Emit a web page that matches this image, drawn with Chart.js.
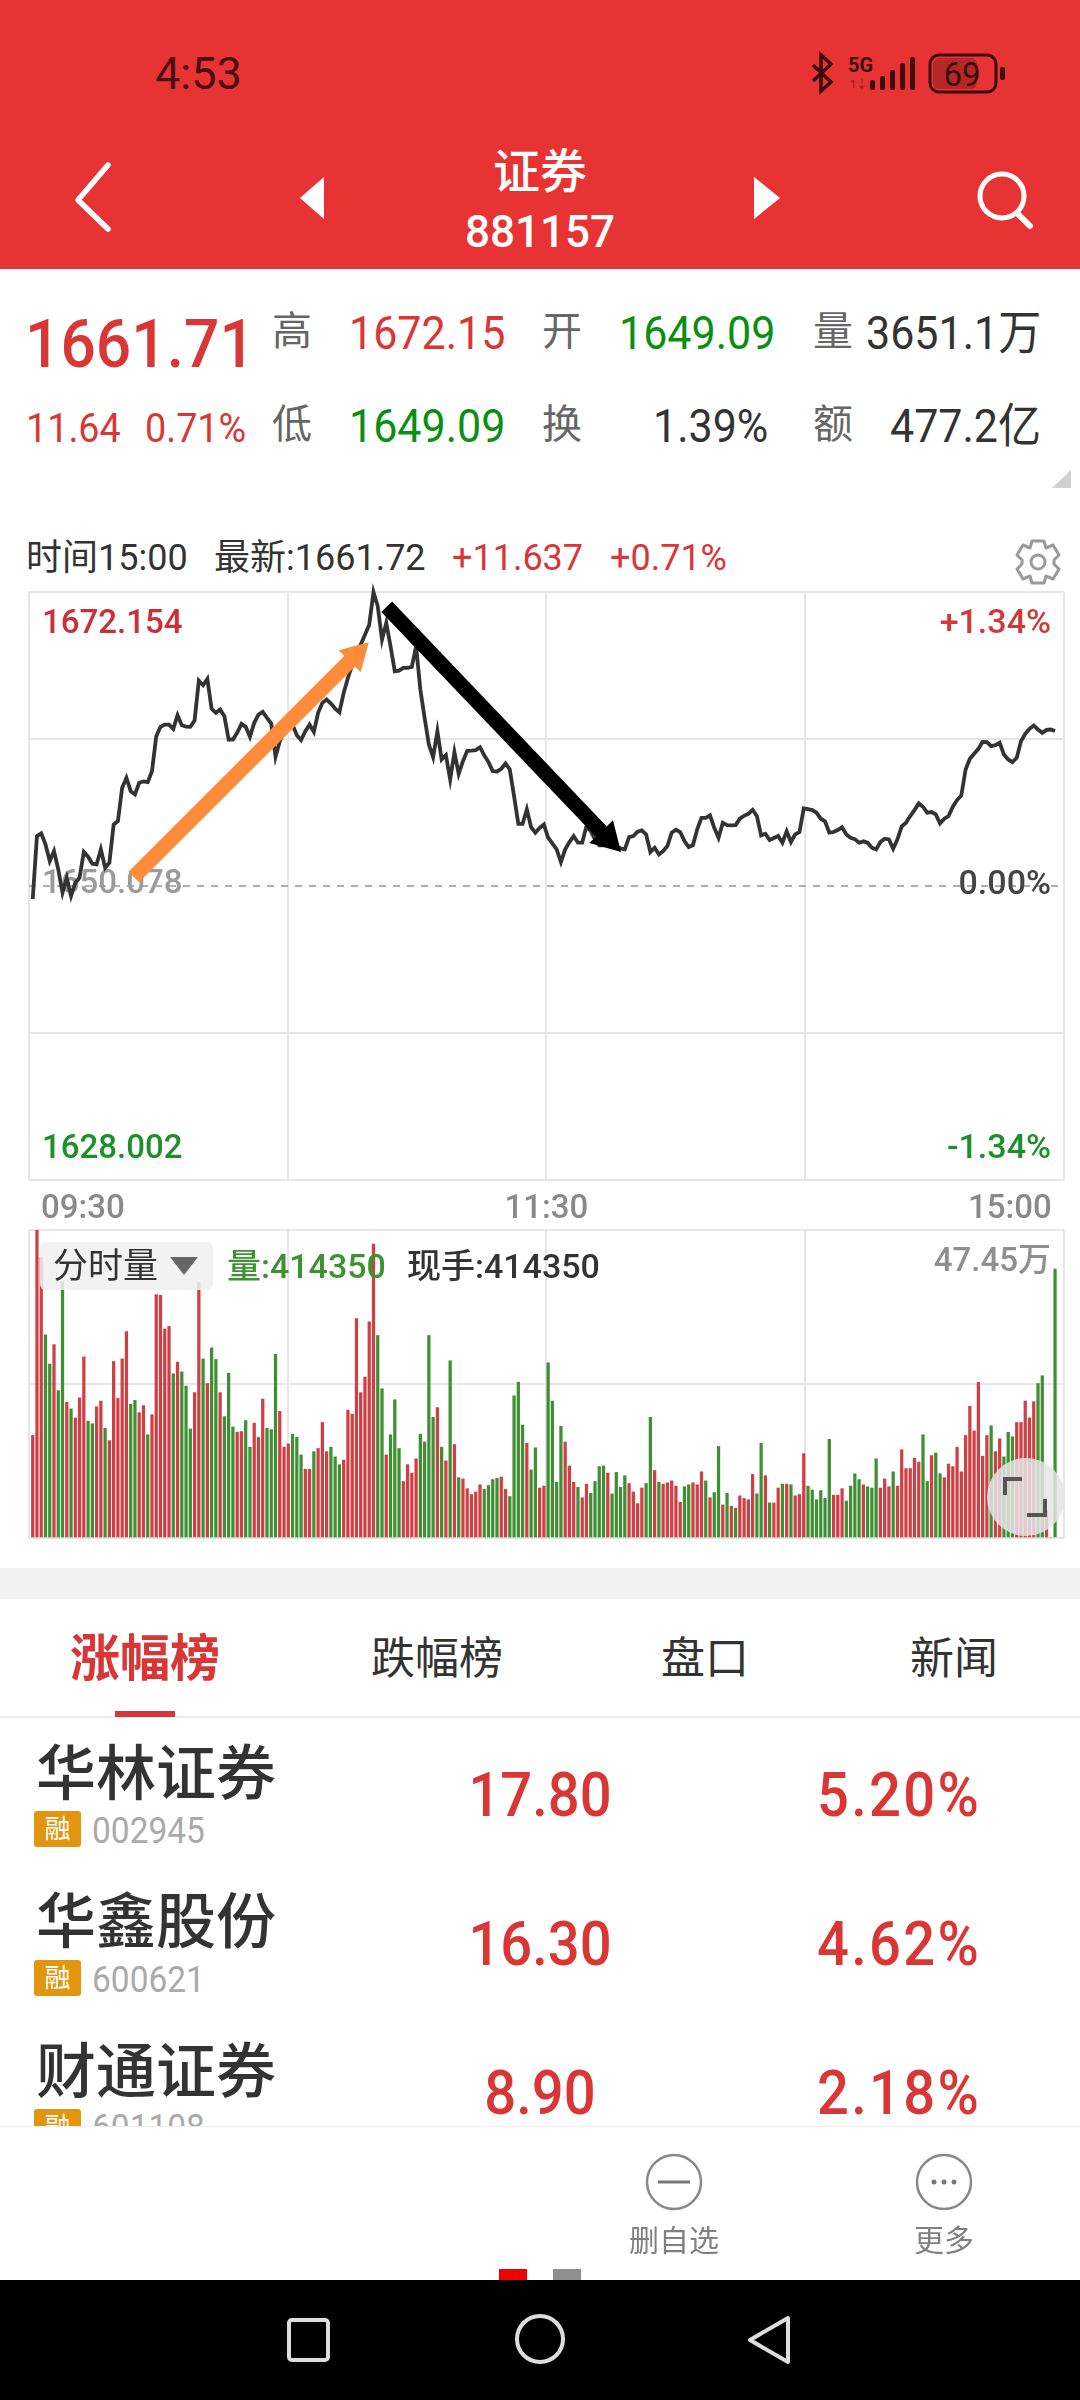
<!DOCTYPE html>
<html lang="zh-CN">
<head>
<meta charset="utf-8">
<title>证券 881157</title>
<script src="https://cdn.jsdelivr.net/npm/chart.js@4"></script>
<style>
html,body{margin:0;padding:0;background:#fff}
#page{position:relative;width:1080px;height:2400px;overflow:hidden;background:#fff;font-family:Roboto,"Noto Sans CJK SC",sans-serif;color:#333}
.t{position:absolute;white-space:nowrap;line-height:1;transform:translateY(-50%)}
.c{transform:translate(-50%,-50%)}
.r{transform:translate(-100%,-50%)}
.red{color:#d93636}.grn{color:#0a8f12}.dk{color:#333}.lb{color:#666}
.box{position:absolute}
svg{position:absolute;left:0;top:0;overflow:visible}
canvas{position:absolute}
.q1{font-size:47px;transform:translateY(-50%) scaleX(.915);transform-origin:left center}
.q2{font-size:41px;transform:translateY(-50%) scaleX(.92);transform-origin:left center}
.cj{font-size:40px}
.info{font-size:36px;top:558px}
.badge{position:absolute;left:34px;width:47px;height:36px;background:#e2950f;border-radius:3px;color:#fff;font-size:26px;text-align:center;line-height:36px}
.name{left:36px;font-size:60px;color:#333;font-weight:500}
.code{left:92px;font-size:36px;color:#aaa;transform:translateY(-50%) scaleX(.93);transform-origin:left center}
.val{font-size:61px;color:#d93636;font-weight:500;transform:translate(-50%,-50%) scaleX(.92)}
.pct{letter-spacing:2.5px}
</style>
</head>
<body>
<div id="page">
  <div class="box" style="left:0;top:0;width:1080px;height:269px;background:#e73333"></div>
  <div class="t" style="left:155px;top:73px;font-size:45px;color:#4a0e0e">4:53</div>
  <svg width="1080" height="300">
    <path d="M813 65 L831 82 L821 91 L821 55 L831 64 L813 81" fill="none" stroke="#3d0c0c" stroke-width="3.5"/>
    <g fill="#3d0c0c">
      <rect x="870" y="80" width="5" height="10" rx="2"/><rect x="880" y="76" width="5" height="14" rx="2"/><rect x="890" y="70" width="5" height="20" rx="2"/><rect x="900" y="63" width="5" height="27" rx="2"/><rect x="910" y="57" width="5" height="33" rx="2"/>
    </g>
    <rect x="930" y="55" width="66" height="37" rx="9" fill="none" stroke="#3d0c0c" stroke-width="3"/>
    <rect x="933" y="58" width="44" height="31" rx="6" fill="#b52828"/>
    <rect x="1000" y="67" width="5" height="13" rx="2" fill="#3d0c0c"/>
    <path d="M108 168 L78 203 L108 232" fill="none" stroke="#fff" stroke-width="5.5" stroke-linejoin="round" stroke-linecap="round" transform="translate(0,-3)"/>
    <path d="M324 177 L300 198 L324 219 Z" fill="#fff"/>
    <path d="M754 177 L780 198 L754 219 Z" fill="#fff"/>
    <circle cx="1002" cy="196" r="22" fill="none" stroke="#fff" stroke-width="5"/>
    <path d="M1017 213 L1030 226" stroke="#fff" stroke-width="6" stroke-linecap="round"/>
    <path d="M1071 470 L1071 488 L1052 488 Z" fill="#d0d0d0"/>
  </svg>
  <div class="t" style="left:848px;top:65px;font-size:20px;font-weight:700;color:#3d0c0c">5G</div>
  <div class="t" style="left:850px;top:84px;font-size:11px;color:#8a1d1d">1↓</div>
  <div class="t c" style="left:962px;top:74px;font-size:33px;color:#3d0c0c">69</div>
  <div class="t c" style="left:540px;top:171px;font-size:47px;color:#fff;font-weight:500">证券</div>
  <div class="t c" style="left:540px;top:232px;font-size:44px;color:#fff;font-weight:500">881157</div>

  <div class="t red" style="left:25px;top:344px;font-size:67px;font-weight:500;transform:translateY(-50%) scaleX(.93);transform-origin:left center">1661.71</div>
  <div class="t lb cj" style="left:272px;top:332px">高</div>
  <div class="t red q1" style="left:349px;top:332px">1672.15</div>
  <div class="t lb cj" style="left:542px;top:332px">开</div>
  <div class="t grn q1" style="left:619px;top:332px">1649.09</div>
  <div class="t lb cj" style="left:813px;top:332px">量</div>
  <div class="t dk q1" style="left:866px;top:332px">3651.1万</div>
  <div class="t red q2" style="left:26px;top:428px">11.64</div>
  <div class="t red q2" style="left:145px;top:428px">0.71%</div>
  <div class="t lb cj" style="left:272px;top:425px">低</div>
  <div class="t grn q1" style="left:349px;top:425px">1649.09</div>
  <div class="t lb cj" style="left:542px;top:425px">换</div>
  <div class="t dk q1" style="left:653px;top:425px">1.39%</div>
  <div class="t lb cj" style="left:813px;top:425px">额</div>
  <div class="t dk q1" style="left:890px;top:425px">477.2亿</div>

  <div class="t dk info" style="left:26px">时间15:00</div>
  <div class="t dk info" style="left:214px">最新:1661.72</div>
  <div class="t red info" style="left:452px">+11.637</div>
  <div class="t red info" style="left:610px">+0.71%</div>
  <svg width="1080" height="620">
    <g transform="translate(1038,562)" fill="none" stroke="#9a9a9a" stroke-width="3">
      <circle r="7"/>
      <path d="M-6 -21 L6 -21 L8 -14 L15 -17 L21 -7 L16 -2 L16 2 L21 7 L15 17 L8 14 L6 21 L-6 21 L-8 14 L-15 17 L-21 7 L-16 2 L-16 -2 L-21 -7 L-15 -17 L-8 -14 Z" stroke-linejoin="round"/>
    </g>
  </svg>

  <canvas id="priceChart" width="1063" height="645" style="left:15px;top:581px"></canvas>
  <canvas id="volumeChart" width="1043" height="320" style="left:25px;top:1224px"></canvas>

  <div class="box" style="left:40px;top:1242px;width:173px;height:48px;background:rgba(240,240,240,.86);border-radius:6px"></div>
  <div class="t dk" style="left:53px;top:1266px;font-size:35px">分时量</div>
  <svg width="1080" height="1300"><path d="M170 1257 L198 1257 L184 1275 Z" fill="#666"/></svg>
  <div class="t" style="left:227px;top:1266px;font-size:34px;font-weight:500;color:#3d9232">量:414350</div>
  <div class="t dk" style="left:407px;top:1266px;font-size:34px;font-weight:500">现手:414350</div>
  <div class="t r" style="left:1051px;top:1259px;font-size:33px;font-weight:500;color:#8f8f8f">47.45万</div>
  <div class="box" style="left:987px;top:1458px;width:78px;height:78px;border-radius:50%;background:rgba(228,228,228,.85)"></div>
  <svg width="1080" height="1560"><path d="M1005 1495 L1005 1479 L1022 1479 M1045 1499 L1045 1515 L1027 1515" fill="none" stroke="#555" stroke-width="4"/></svg>

  <div class="box" style="left:0;top:1568px;width:1080px;height:31px;background:#f2f2f2"></div>
  <div class="t c" style="left:145px;top:1659px;font-size:50px;font-weight:700;color:#d93636">涨幅榜</div>
  <div class="t c" style="left:437px;top:1659px;font-size:44px">跌幅榜</div>
  <div class="t c" style="left:705px;top:1659px;font-size:44px">盘口</div>
  <div class="t c" style="left:954px;top:1659px;font-size:44px">新闻</div>
  <div class="box" style="left:0;top:1716px;width:1080px;height:2px;background:#ececec"></div>
  <div class="box" style="left:115px;top:1711px;width:60px;height:6px;background:#d93636"></div>

  <div class="t name" style="top:1775px">华林证券</div>
  <div class="badge" style="top:1811px">融</div>
  <div class="t code" style="top:1831px">002945</div>
  <div class="t val" style="left:540px;top:1795px">17.80</div>
  <div class="t val pct" style="left:899px;top:1795px">5.20%</div>
  <div class="t name" style="top:1923px">华鑫股份</div>
  <div class="badge" style="top:1960px">融</div>
  <div class="t code" style="top:1980px">600621</div>
  <div class="t val" style="left:540px;top:1944px">16.30</div>
  <div class="t val pct" style="left:899px;top:1944px">4.62%</div>
  <div class="t name" style="top:2073px">财通证券</div>
  <div class="badge" style="top:2109px">融</div>
  <div class="t code" style="top:2128px">601108</div>
  <div class="t val" style="left:540px;top:2093px">8.90</div>
  <div class="t val pct" style="left:899px;top:2093px">2.18%</div>

  <div class="box" style="left:0;top:2126px;width:1080px;height:154px;background:#fff;border-top:1px solid #eee"></div>
  <svg width="1080" height="2400">
    <circle cx="674" cy="2182" r="27" fill="none" stroke="#888" stroke-width="2.5"/>
    <path d="M658 2182 L690 2182" stroke="#777" stroke-width="3"/>
    <circle cx="944" cy="2182" r="27" fill="none" stroke="#888" stroke-width="2.5"/>
    <circle cx="934" cy="2182" r="2.5" fill="#777"/><circle cx="944" cy="2182" r="2.5" fill="#777"/><circle cx="954" cy="2182" r="2.5" fill="#777"/>
  </svg>
  <div class="t c" style="left:674px;top:2241px;font-size:30px;color:#808080">删自选</div>
  <div class="t c" style="left:944px;top:2241px;font-size:30px;color:#808080">更多</div>
  <div class="box" style="left:499px;top:2269px;width:28px;height:11px;background:#ee0000"></div>
  <div class="box" style="left:553px;top:2269px;width:28px;height:11px;background:#8f8f8f"></div>
  <div class="box" style="left:0;top:2280px;width:1080px;height:120px;background:#000"></div>
  <svg width="1080" height="2400">
    <rect x="289" y="2320" width="39" height="40" rx="3" fill="none" stroke="#ddd" stroke-width="4"/>
    <circle cx="540" cy="2339" r="23" fill="none" stroke="#ddd" stroke-width="4"/>
    <path d="M788 2318 L788 2362 L750 2340 Z" fill="none" stroke="#ddd" stroke-width="4" stroke-linejoin="round"/>
  </svg>
</div>
<script>
// ---- values ----
const priceSeries = [
1649.09,1653.83,1654.03,1653.20,1651.95,1652.70,1651.33,1649.58,1650.70,1649.33,
1650.33,1650.70,1652.63,1652.28,1651.75,1651.70,1652.83,1651.45,1651.83,1654.70,
1654.95,1657.45,1658.20,1657.20,1656.95,1657.83,1657.93,1657.88,1658.70,1661.33,
1662.03,1662.20,1662.20,1661.88,1662.90,1662.15,1662.05,1662.03,1662.50,1665.50,
1665.15,1665.63,1663.38,1663.08,1663.33,1662.83,1661.08,1661.08,1661.58,1662.25,
1662.03,1661.28,1662.33,1662.95,1663.15,1662.70,1662.28,1659.78,1660.95,1661.68,
1662.20,1662.20,1661.40,1661.03,1661.70,1662.20,1661.65,1663.08,1663.83,1664.08,
1663.78,1663.40,1663.13,1664.58,1665.70,1666.70,1667.58,1668.20,1668.95,1669.70,
1672.15,1671.08,1668.58,1669.83,1668.08,1666.20,1666.25,1666.45,1666.45,1666.53,
1668.08,1664.83,1662.70,1660.70,1659.75,1661.70,1659.58,1659.90,1658.08,1660.13,
1658.50,1659.45,1660.23,1660.25,1660.28,1660.50,1659.90,1659.38,1658.70,1658.68,
1658.88,1659.28,1658.83,1656.83,1654.75,1654.75,1655.83,1654.50,1654.08,1654.45,
1654.70,1653.70,1653.28,1652.83,1651.88,1652.83,1653.38,1653.83,1653.33,1653.33,
1654.58,1654.20,1653.58,1653.13,1653.13,1653.28,1653.15,1653.08,1652.90,1652.83,
1653.75,1653.83,1654.15,1654.25,1653.95,1652.63,1652.95,1652.45,1652.70,1653.08,
1654.08,1654.30,1654.13,1653.45,1653.00,1653.15,1654.33,1655.20,1655.20,1655.38,
1654.45,1653.70,1654.83,1654.65,1654.63,1654.65,1655.13,1655.35,1655.50,1655.80,
1655.33,1653.88,1654.00,1653.53,1653.68,1653.83,1653.33,1654.18,1653.38,1653.95,
1654.13,1655.90,1655.85,1655.78,1655.58,1655.13,1654.93,1654.08,1654.13,1654.28,
1654.50,1653.95,1653.70,1653.60,1653.33,1653.43,1653.33,1652.95,1652.83,1653.38,
1653.63,1653.58,1652.88,1653.58,1654.55,1654.83,1655.33,1655.78,1656.28,1656.03,
1655.58,1655.63,1655.45,1654.78,1655.13,1655.33,1656.03,1656.53,1656.88,1658.83,
1659.63,1660.00,1660.38,1660.90,1660.88,1660.58,1660.65,1660.83,1659.95,1659.58,
1659.38,1659.70,1660.95,1661.50,1661.88,1662.13,1661.83,1661.58,1661.80,1661.83,
1661.72];

// volume per minute, in 万手
const volumeSeries = [
15.8,47.45,43.2,31.3,26.8,29.8,22.7,39.5,20.9,19.9,
18.5,21.6,27.9,18.0,17.6,20.2,21.1,16.9,15.0,27.2,
21.5,27.6,31.8,20.6,21.2,19.3,20.4,15.9,19.0,37.5,
37.4,32.2,32.6,25.3,27.1,25.6,23.4,16.8,22.4,39.4,
27.6,23.8,29.3,27.5,22.4,18.7,25.4,17.1,16.3,16.4,
18.1,14.0,17.7,15.5,21.4,16.9,16.7,28.3,19.5,14.0,
14.5,16.0,15.5,12.8,10.6,10.6,13.3,13.8,17.8,13.3,
14.0,12.5,11.3,12.0,19.7,19.1,33.8,22.4,24.8,33.3,
45.3,31.2,23.0,12.8,15.9,21.3,13.8,
8.7,11.3,10.0,12.2,16.0,14.8,31.2,18.6,20.1,14.0,
11.9,27.3,14.4,9.3,9.1,7.6,6.7,7.1,8.2,7.5,
8.1,9.0,9.2,9.4,7.5,6.4,21.9,24.0,17.4,14.6,
10.5,13.9,7.7,8.0,27.0,21.1,8.6,17.2,14.8,11.1,
8.6,7.8,6.2,8.3,6.9,8.7,11.0,11.1,10.0,6.8,
10.1,7.8,9.6,8.4,7.1,5.3,7.7,8.4,18.6,10.4,
8.6,8.3,8.5,8.8,8.0,5.5,7.9,8.2,8.5,8.2,
10.2,8.8,6.2,7.0,14.1,5.1,6.9,
4.9,4.6,6.5,6.1,5.9,9.8,6.8,14.6,9.6,5.4,
5.4,7.7,8.3,8.3,8.2,6.5,6.7,13.0,8.0,7.4,
5.9,7.3,6.1,15.2,6.6,6.6,7.6,5.7,8.0,9.9,
9.0,8.2,7.9,7.7,12.2,7.7,9.1,7.9,10.2,8.0,
13.6,10.7,10.7,12.3,11.7,15.9,8.7,12.7,13.1,9.9,
9.3,11.4,11.0,14.0,10.2,15.8,20.3,16.5,24.0,12.6,
15.8,17.3,13.3,15.3,12.5,16.3,15.6,17.8,17.8,21.1,
18.5,21.0,23.8,25.0,4.1,0,41.435];

// r = up minute, g = down minute
const volumeSides = (
"rrrggrggrg"+"rrrggrrgrr"+"rrrggrrgrr"+"rrrgrgggrr"+"grggrgggrr"+"ggrrrgggrr"+"rgggrrgrrr"+"gggrrrrrrr"+"rggrggg"+
"rrrrggggrg"+"rgrgrrrrrg"+"gggrrggggr"+"ggrrggggrr"+"rgrrggggrg"+"gggrrrrggr"+"grrrrrggrr"+"rgrggrg"+
"rgrrrrggrg"+"rrgrgrrrgg"+"ggggrrrggg"+"grgggrrrgr"+"rrrrrggrgg"+"rrrrrrrrrr"+"rgrrgggrrr"+"rrggrgg").split('');

const prevClose = 1650.078;
const priceHigh = 1672.154;
const priceLow = 1628.002;
const priceGridValues = [1628.002,1639.04,1650.078,1661.116,1672.154];
const priceTickValues = [1630.25,1650.15,1669.68];
const priceTickLabels = ['1628.002','1650.078','1672.154'];
const priceTickColors = ['#1f8f2a','#9b9b9b','#cb3038'];
const percentTickValues = [-1.20,0.001,1.193];
const percentTickLabels = ['-1.34%','0.00%','+1.34%'];
const percentTickColors = ['#1f8f2a','#444444','#d13a3a'];
const timeGridValues = [-0.87,59.87,120.6,181.35,242.1];
const timeTickValues = [11.8,120.6,229.4];
const timeTickLabels = ['09:30','11:30','15:00'];
const volumeGridValues = [0,23.725,47.45];
const orangeArrowX = [23.7,75.9];
const orangeArrowY = [1650.75,1667.43];
const blackArrowX = [83.1,135];
const blackArrowY = [1671.05,1653.65];

const FONT = 'Roboto,"Noto Sans CJK SC",sans-serif';
const GRID = '#e6e6e6';
const sameTicks = vals => axis => { axis.ticks = vals.map(v => ({value:v})); };
const noPad = axis => { axis.paddingLeft = axis.paddingRight = axis.paddingTop = axis.paddingBottom = 0; };
const zeroWidth = axis => { axis.width = 0; noPad(axis); };
const minute = (arr) => arr.map((v,i) => ({x:i,y:v}));
const pairs = (xs,ys) => xs.map((x,i) => ({x,y:ys[i]}));

const timeAxisBase = {
  type:'linear', min:timeGridValues[0], max:timeGridValues[4], offset:false,
  border:{display:false},
  grid:{offset:false, drawTicks:false, lineWidth:2, color:c => timeGridValues.includes(c.tick && c.tick.value) ? GRID : 'rgba(0,0,0,0)'}
};

const priceChart = new Chart(document.getElementById('priceChart'), {
  type:'line',
  data:{datasets:[
    {data:pairs(blackArrowX,blackArrowY), borderColor:'#000', backgroundColor:'#000', borderWidth:15,
     pointRadius:[0,19], pointStyle:'triangle', pointRotation:136, pointBorderWidth:0, borderCapStyle:'butt', clip:false},
    {data:pairs(orangeArrowX,orangeArrowY), borderColor:'#ff8c3a', backgroundColor:'#ff8c3a', borderWidth:15,
     pointRadius:[0,18], pointStyle:'triangle', pointRotation:45, pointBorderWidth:0, borderCapStyle:'butt', clip:false},
    {data:minute(priceSeries), borderColor:'#333333', borderWidth:3.8, pointRadius:0, tension:0, clip:false}
  ]},
  options:{
    responsive:false, maintainAspectRatio:false, animation:false, events:[],
    layout:{padding:{left:0,right:0,top:0,bottom:0}},
    plugins:{legend:{display:false},title:{display:false},tooltip:{enabled:false}},
    scales:{
      x:{...timeAxisBase,
        afterBuildTicks:sameTicks([...new Set([...timeGridValues,...timeTickValues])].sort((a,b)=>a-b)),
        afterFit:a=>{a.height=46;noPad(a);},
        ticks:{autoSkip:false,maxRotation:0,minRotation:0,padding:10,color:'#8a8a8a',
          font:{family:FONT,size:33,weight:'500'},
          callback:v=>{const k=timeTickValues.indexOf(v);return k<0?'':timeTickLabels[k];}}
      },
      y:{type:'linear',position:'left',min:priceLow,max:priceHigh,
        afterBuildTicks:sameTicks([...priceGridValues,...priceTickValues].sort((a,b)=>a-b)),
        afterFit:zeroWidth,
        border:{display:false,dash:c=>c.tick&&c.tick.value===prevClose?[7,7]:[]},
        grid:{drawTicks:false,lineWidth:2,
          color:c=>{const v=c.tick&&c.tick.value;if(v===prevClose)return '#adadad';return priceGridValues.includes(v)?GRID:'rgba(0,0,0,0)';}},
        ticks:{mirror:true,padding:13,autoSkip:false,
          font:{family:FONT,size:33,weight:'500'},
          color:c=>{const k=priceTickValues.indexOf(c.tick&&c.tick.value);return k<0?'#999':priceTickColors[k];},
          callback:v=>{const k=priceTickValues.indexOf(v);return k<0?'':priceTickLabels[k];}}
      },
      pct:{type:'linear',position:'right',min:-1.34,max:1.34,
        afterBuildTicks:sameTicks(percentTickValues),
        afterFit:zeroWidth,
        border:{display:false},
        grid:{display:false,drawTicks:false},
        ticks:{mirror:true,padding:-13,autoSkip:false,
          font:{family:FONT,size:34,weight:'500'},
          color:c=>{const k=percentTickValues.indexOf(c.tick&&c.tick.value);return k<0?'#444':percentTickColors[k];},
          callback:v=>{const k=percentTickValues.indexOf(v);return k<0?'':percentTickLabels[k];}}
      }
    }
  }
});

// place the plot area of the price chart on the page's plot frame
(function fitPlotFrame(chart, frame){
  const a = chart.chartArea;
  const L = a.left, T = a.top, R = chart.width - a.right, B = chart.height - a.bottom;
  chart.resize(frame.w + L + R, frame.h + T + B);
  chart.canvas.style.position = 'absolute';
  const b = chart.chartArea;
  chart.canvas.style.left = (frame.x - b.left) + 'px';
  chart.canvas.style.top = (frame.y - b.top) + 'px';
})(priceChart, {x:29, y:592, w:1035, h:588});

new Chart(document.getElementById('volumeChart'), {
  type:'bar',
  data:{datasets:[{
    data:minute(volumeSeries),
    barThickness:2.6,
    backgroundColor:c=>volumeSides[c.dataIndex]==='r'?'#cf4045':'#418f35'
  }]},
  options:{
    responsive:false, animation:false, events:[],
    layout:{padding:{left:4,right:4,top:6,bottom:6}},
    plugins:{legend:{display:false},title:{display:false},tooltip:{enabled:false}},
    scales:{
      x:{...timeAxisBase,
        afterBuildTicks:sameTicks(timeGridValues),
        afterFit:a=>{a.height=0;noPad(a);},
        ticks:{display:false,autoSkip:false}
      },
      y:{type:'linear',position:'left',min:volumeGridValues[0],max:volumeGridValues[2],
        afterBuildTicks:sameTicks(volumeGridValues),
        afterFit:zeroWidth,
        border:{display:false},
        grid:{drawTicks:false,lineWidth:2,color:GRID},
        ticks:{display:false,autoSkip:false}
      }
    }
  }
});
</script>
</body>
</html>
